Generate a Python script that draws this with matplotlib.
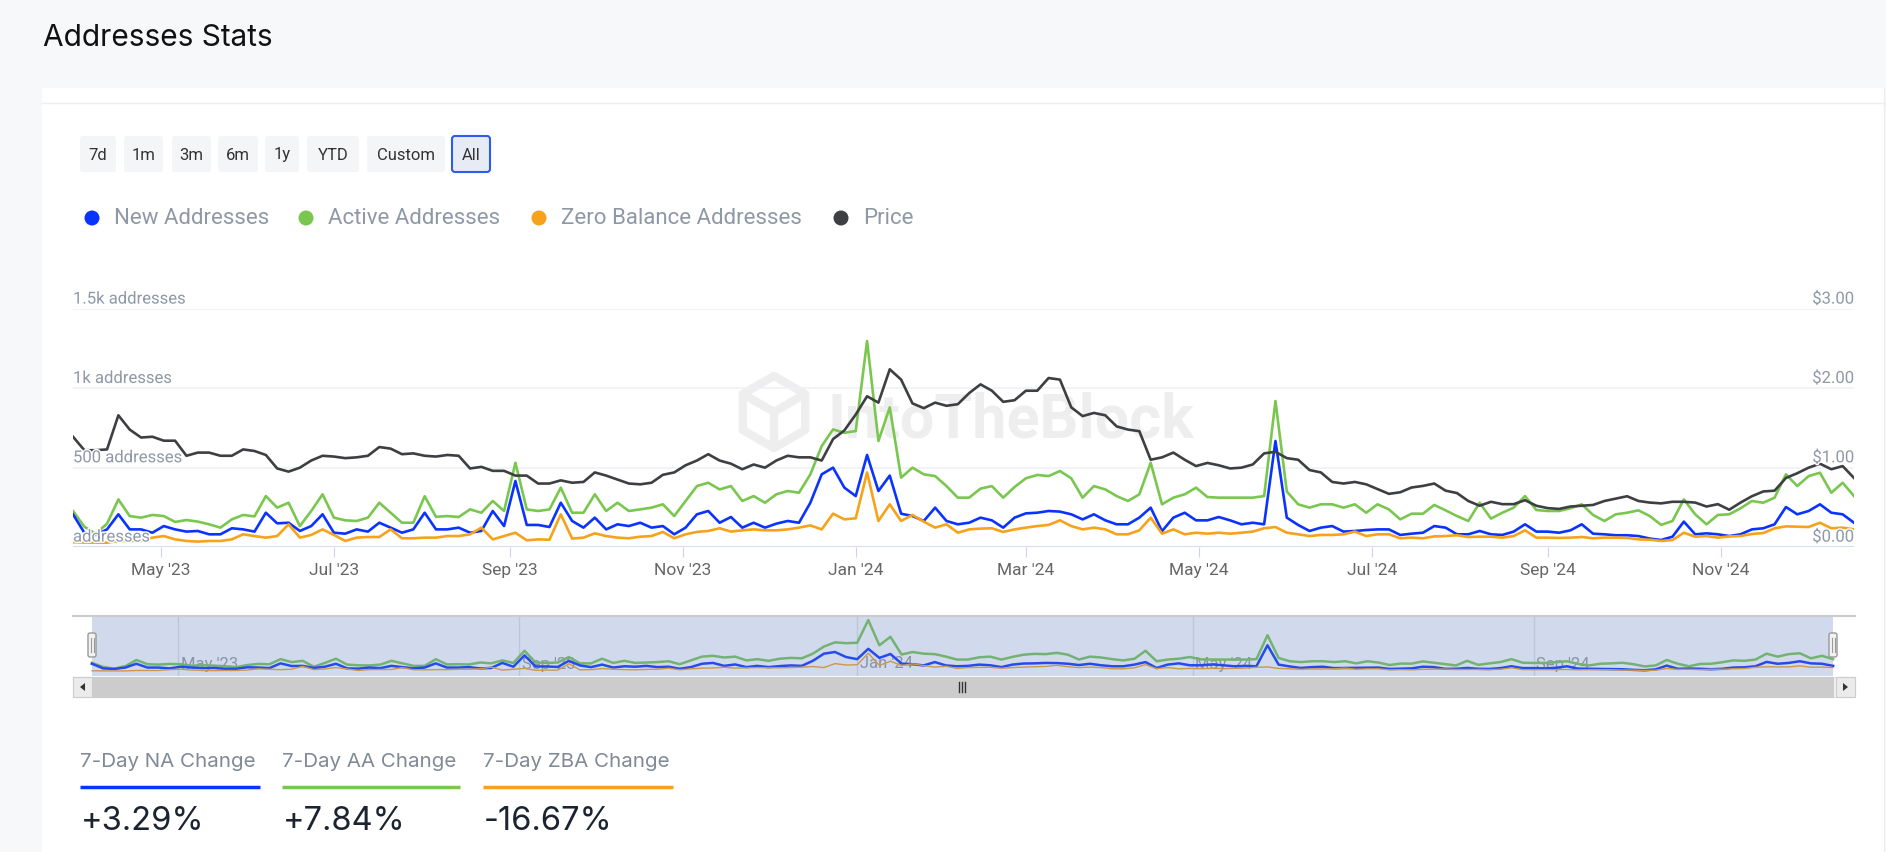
import numpy as np
import pandas as pd
import matplotlib
matplotlib.use("Agg")
import matplotlib.pyplot as plt
import matplotlib.dates as mdates
from matplotlib.patches import Rectangle, FancyBboxPatch, Circle, Polygon
import matplotlib.patheffects as pe

plt.rcParams['font.family'] = ['Roboto', 'DejaVu Sans']

W, H = 1886, 852

dates = pd.date_range("2023-03-31", periods=158, freq="4D")

price = [1.39, 1.22, 1.22, 1.23, 1.66, 1.48, 1.38, 1.39, 1.34, 1.34, 1.15, 1.19, 1.19, 1.15, 1.15, 1.23, 1.21, 1.16, 0.99, 0.95,
         1.00, 1.09, 1.15, 1.14, 1.12, 1.13, 1.15, 1.26, 1.24, 1.17, 1.18, 1.15, 1.14, 1.16, 1.15, 0.99, 1.01, 0.96, 0.96, 0.90,
         0.90, 0.80, 0.80, 0.84, 0.81, 0.82, 0.94, 0.90, 0.85, 0.80, 0.79, 0.81, 0.91, 0.94, 1.03, 1.09, 1.17, 1.09, 1.05, 0.98,
         1.04, 1.00, 1.09, 1.15, 1.13, 1.13, 1.09, 1.36, 1.47, 1.67, 1.90, 1.82, 2.24, 2.11, 1.81, 1.75, 1.82, 1.78, 1.80,
         1.94, 2.05, 1.97, 1.83, 1.85, 1.97, 1.97, 2.13, 2.11, 1.76, 1.65, 1.69, 1.66, 1.52, 1.48, 1.46, 1.10, 1.13, 1.19, 1.10,
         1.02, 1.06, 1.03, 0.99, 1.00, 1.04, 1.18, 1.20, 1.12, 1.10, 0.97, 0.94, 0.82, 0.80, 0.82, 0.79, 0.73, 0.67, 0.69,
         0.75, 0.77, 0.80, 0.71, 0.68, 0.58, 0.52, 0.57, 0.54, 0.54, 0.59, 0.52, 0.49, 0.48, 0.51, 0.52, 0.53, 0.58, 0.61, 0.64,
         0.58, 0.56, 0.55, 0.57, 0.57, 0.56, 0.51, 0.54, 0.47, 0.56, 0.64, 0.70, 0.71, 0.87, 0.93, 1.00, 1.05, 0.98, 1.02, 0.87]

active = [227, 128, 84, 147, 300, 195, 185, 202, 195, 158, 170, 160, 143, 122, 174, 202, 193, 321, 248, 279,
          132, 227, 332, 185, 168, 164, 185, 279, 216, 153, 153, 320, 190, 195, 189, 237, 216, 290, 227, 531,
          237, 227, 237, 374, 216, 216, 332, 227, 279, 227, 237, 248, 269, 195, 290, 384, 405, 363, 384, 290,
          321, 279, 332, 353, 342, 458, 636, 741, 720, 731, 1298, 668, 880, 437, 500, 458, 447, 384, 311,
          311, 368, 384, 311, 378, 433, 454, 447, 479, 433, 311, 384, 363, 321, 290, 332, 531, 269, 311, 332,
          374, 315, 311, 311, 311, 311, 321, 920, 350, 269, 248, 269, 269, 248, 269, 216, 269, 237, 174,
          210, 210, 265, 231, 195, 164, 279, 179, 216, 248, 321, 233, 227, 227, 244, 269, 202, 164, 206, 216,
          231, 195, 139, 164, 300, 206, 143, 202, 206, 244, 290, 279, 311, 458, 384, 447, 468, 342, 405, 321]

new = [206, 90, 76, 111, 206, 111, 111, 90, 132, 111, 97, 101, 80, 80, 118, 111, 97, 216, 149, 153,
       101, 132, 206, 90, 84, 111, 97, 153, 122, 90, 111, 216, 111, 111, 122, 90, 101, 227, 132, 416,
       139, 139, 126, 279, 164, 122, 185, 111, 143, 132, 153, 122, 132, 80, 122, 206, 227, 153, 189, 122,
       153, 122, 147, 164, 153, 279, 458, 500, 374, 321, 580, 353, 450, 210, 195, 164, 248, 164, 143,
       153, 185, 168, 122, 185, 212, 216, 227, 223, 206, 174, 206, 168, 143, 143, 185, 248, 100, 185, 216,
       168, 168, 189, 168, 143, 153, 143, 668, 185, 139, 101, 122, 132, 97, 101, 107, 111, 111, 76,
       84, 90, 132, 122, 80, 80, 101, 80, 76, 97, 143, 97, 97, 90, 105, 143, 84, 80, 74, 74,
       69, 53, 44, 65, 160, 80, 86, 80, 69, 80, 111, 118, 143, 252, 206, 227, 269, 216, 206, 153]

zero = [30, 28, 27, 27, 38, 38, 38, 59, 69, 48, 38, 34, 38, 38, 48, 80, 69, 59, 69, 143,
        59, 76, 111, 76, 38, 59, 63, 63, 111, 55, 55, 59, 59, 69, 69, 80, 122, 48, 69, 90,
        42, 48, 46, 206, 53, 59, 86, 69, 59, 55, 65, 69, 95, 55, 80, 95, 101, 118, 97, 105,
        111, 105, 105, 111, 122, 136, 111, 210, 174, 181, 470, 164, 269, 164, 202, 160, 122, 143, 90,
        111, 116, 118, 95, 111, 122, 132, 139, 168, 132, 111, 122, 111, 80, 80, 105, 185, 84, 111, 80,
        90, 84, 90, 84, 90, 97, 118, 126, 90, 80, 69, 76, 76, 80, 97, 69, 80, 80, 55,
        59, 55, 67, 69, 74, 63, 65, 65, 59, 69, 105, 59, 59, 57, 59, 63, 55, 59, 59, 57,
        48, 46, 38, 44, 90, 65, 69, 59, 67, 69, 82, 88, 118, 130, 128, 126, 153, 118, 122, 111]

tick_dates = ["2023-05-01", "2023-07-01", "2023-09-01", "2023-11-01", "2024-01-01",
              "2024-03-01", "2024-05-01", "2024-07-01", "2024-09-01", "2024-11-01"]
tick_labels = ["May '23", "Jul '23", "Sep '23", "Nov '23", "Jan '24",
               "Mar '24", "May '24", "Jul '24", "Sep '24", "Nov '24"]
nav_dates = ["2023-05-01", "2023-09-01", "2024-01-01", "2024-05-01", "2024-09-01"]
nav_labels = ["May '23", "Sep '23", "Jan '24", "May '24", "Sep '24"]

left_ticks = [0, 500, 1000, 1500]
left_labels = ["addresses", "500 addresses", "1k addresses", "1.5k addresses"]
right_ticks = [0, 1, 2, 3]
right_labels = ["$0.00", "$1.00", "$2.00", "$3.00"]

buttons = ["7d", "1m", "3m", "6m", "1y", "YTD", "Custom", "All"]
button_x = [(80, 116), (124, 163), (172, 211), (218, 258), (265, 299), (307, 359), (367, 445), (452, 490)]

legend_names = ["New Addresses", "Active Addresses", "Zero Balance Addresses", "Price"]
legend_x = [92, 306, 539, 841]

stat_names = ["7-Day NA Change", "7-Day AA Change", "7-Day ZBA Change"]
stat_values = ["+3.29%", "+7.84%", "-16.67%"]
stat_x = [(80, 260), (282, 460), (483, 673)]

C_NEW = "#0a33ff"
C_ACT = "#7ac74f"
C_ZERO = "#f7a21b"
C_PRICE = "#3d3f43"
C_LBL = "#8e98a6"


def rect(x0, y0, x1, y1):
    return [x0 / W, 1 - y1 / H, (x1 - x0) / W, (y1 - y0) / H]


fig = plt.figure(figsize=(W / 100, H / 100), dpi=100)
fig.patch.set_facecolor("#f7f8fa")

# background layer: card, header, buttons, legend, watermark
bg = fig.add_axes([0, 0, 1, 1], zorder=0)
bg.set_xlim(0, W)
bg.set_ylim(H, 0)
bg.axis("off")
bg.patch.set_alpha(0)
bg.add_patch(Rectangle((42, 88), 1842, 770, fc="white", ec="none"))
bg.plot([42, 1884], [103, 103], color="#eceef2", lw=1)
bg.plot([1884, 1884], [88, 852], color="#eceef2", lw=1)
bg.text(43, 38, "Addresses Stats", fontsize=21.5, family=["Inter", "DejaVu Sans"], color="#111111", va="center")

for name, (x0, x1) in zip(buttons, button_x):
    sel = name == "All"
    bg.add_patch(FancyBboxPatch((x0, 136), x1 - x0, 36, boxstyle="round,pad=0,rounding_size=3",
                                fc="#e6ebf6" if sel else "#f4f5f7",
                                ec="#2f5cf0" if sel else "none", lw=1.5))
    bg.text((x0 + x1) / 2, 155, name, fontsize=12, color="#333333", ha="center", va="center")

for name, x, c in zip(legend_names, legend_x, [C_NEW, C_ACT, C_ZERO, C_PRICE]):
    bg.add_patch(Circle((x, 218), 7.5, fc=c, ec="none"))
    bg.text(x + 22, 218, name, fontsize=16, color=C_LBL, va="center")

# watermark
hx, hy, hr = 774, 412, 36
ang = np.deg2rad(np.arange(90, 450, 60))
hexv = np.column_stack([hx + hr * np.cos(ang), hy - hr * np.sin(ang)])
bg.add_patch(Polygon(hexv, closed=True, fill=False, ec="#eeeeee", lw=6, joinstyle="round"))
for k in [1, 3, 5]:
    bg.plot([hx, hexv[k, 0]], [hy, hexv[k, 1]], color="#eeeeee", lw=6, solid_capstyle="round")
bg.text(828, 420, "IntoTheBlock", fontsize=44, weight="bold", color="#eeeeee", va="center")

# stats
for name, val, (x0, x1), c in zip(stat_names, stat_values, stat_x, [C_NEW, C_ACT, C_ZERO]):
    bg.text(x0, 762, name, fontsize=14.8, family=["Inter", "DejaVu Sans"], color="#808a97", va="center")
    bg.plot([x0, x1], [787, 787], color=c, lw=2.5, solid_capstyle="butt")
    bg.text(x0 + 1, 822, val, fontsize=23.5, family=["Inter", "DejaVu Sans"], color="#1b2430", va="center")

# main chart
ax = fig.add_axes(rect(73, 309, 1854, 547), zorder=1)
ax.patch.set_alpha(0)
for s in ax.spines.values():
    s.set_visible(False)
ax.set_xlim(dates[0], dates[-1])
ax.set_ylim(0, 1500)
for v in left_ticks[1:]:
    ax.axhline(v, color="#eff1f5", lw=1.2, zorder=0)
ax.axhline(0, color="#ccd6eb", lw=1.2, zorder=1)

ax.plot(dates, active, color=C_ACT, lw=1.9, zorder=2)
ax.plot(dates, new, color=C_NEW, lw=1.9, zorder=3)
ax.plot(dates, zero, color=C_ZERO, lw=1.9, zorder=4)
ax2 = ax.twinx()
ax2.set_ylim(0, 3)
ax2.axis("off")
ax2.plot(dates, price, color=C_PRICE, lw=1.9, zorder=5)

ax.set_yticks([])
ax.set_xticks(pd.to_datetime(tick_dates))
ax.set_xticklabels(tick_labels)
ax.tick_params(axis="x", length=7, color="#ccd6eb", labelcolor="#666666", labelsize=12.5, pad=4.5)

halo = [pe.withStroke(linewidth=2, foreground="white")]
for v, lab in zip(left_ticks, left_labels):
    ax2.text(0, v / 500 + 0.03, lab, transform=ax2.get_yaxis_transform(), fontsize=12,
             color=C_LBL, va="bottom", ha="left", zorder=8, path_effects=halo)
for v, lab in zip(right_ticks, right_labels):
    ax2.text(1, v + 0.03, lab, transform=ax2.get_yaxis_transform(), fontsize=12,
             color=C_LBL, va="bottom", ha="right", zorder=8, path_effects=halo)

# navigator
nav = fig.add_axes(rect(73, 616, 1855, 676), zorder=1)
nav.patch.set_alpha(0)
nav.axis("off")
nav.set_xlim(dates[0] - pd.Timedelta(days=6.85), dates[-1] + pd.Timedelta(days=7.9))
nav.set_ylim(-100, 1400)
for d, lab in zip(pd.to_datetime(nav_dates), nav_labels):
    nav.axvline(d, color="#dfe3ea", lw=1, zorder=1)
    nav.annotate(lab, (mdates.date2num(d), 0.2), xycoords=nav.get_xaxis_transform(), xytext=(2, 0),
                 textcoords="offset points", fontsize=12, color="#9a9a9a", va="center", zorder=2)
nav.plot(dates, active, color=C_ACT, lw=1.8, zorder=3)
nav.plot(dates, new, color=C_NEW, lw=1.8, zorder=4)
nav.plot(dates, zero, color=C_ZERO, lw=1.0, zorder=5)
nav.axvspan(dates[0], dates[-1], color="#6685c2", alpha=0.3, lw=0, zorder=6)

# foreground: navigator frame, handles, scrollbar
fg = fig.add_axes([0, 0, 1, 1], zorder=3)
fg.set_xlim(0, W)
fg.set_ylim(H, 0)
fg.axis("off")
fg.patch.set_alpha(0)
fg.plot([73, 1855], [616, 616], color="#cccccc", lw=1.5)
fg.add_patch(Rectangle((73, 677), 1782, 20, fc="#f2f2f2", ec="#e6e6e6", lw=0.8))
fg.add_patch(Rectangle((92, 677), 1741, 20, fc="#cccccc", ec="#cccccc", lw=0.8))
fg.add_patch(Rectangle((73, 677), 19, 20, fc="#ebebeb", ec="#cccccc", lw=0.8))
fg.add_patch(Rectangle((1836, 677), 19, 20, fc="#ebebeb", ec="#cccccc", lw=0.8))
fg.add_patch(Polygon([(80, 687), (85, 683), (85, 691)], closed=True, fc="#333333", ec="none"))
fg.add_patch(Polygon([(1848, 687), (1843, 683), (1843, 691)], closed=True, fc="#333333", ec="none"))
for gx in [959, 962, 965]:
    fg.plot([gx, gx], [682, 692], color="#333333", lw=1)
for hxp in [92, 1833]:
    fg.add_patch(FancyBboxPatch((hxp - 4, 633), 8, 24, boxstyle="round,pad=0,rounding_size=2",
                                fc="#f2f2f2", ec="#999999", lw=1))
    for lx in [hxp - 1.5, hxp + 1.5]:
        fg.plot([lx, lx], [638, 652], color="#999999", lw=0.8)

fig.savefig("out.png", dpi=100, facecolor=fig.get_facecolor())
